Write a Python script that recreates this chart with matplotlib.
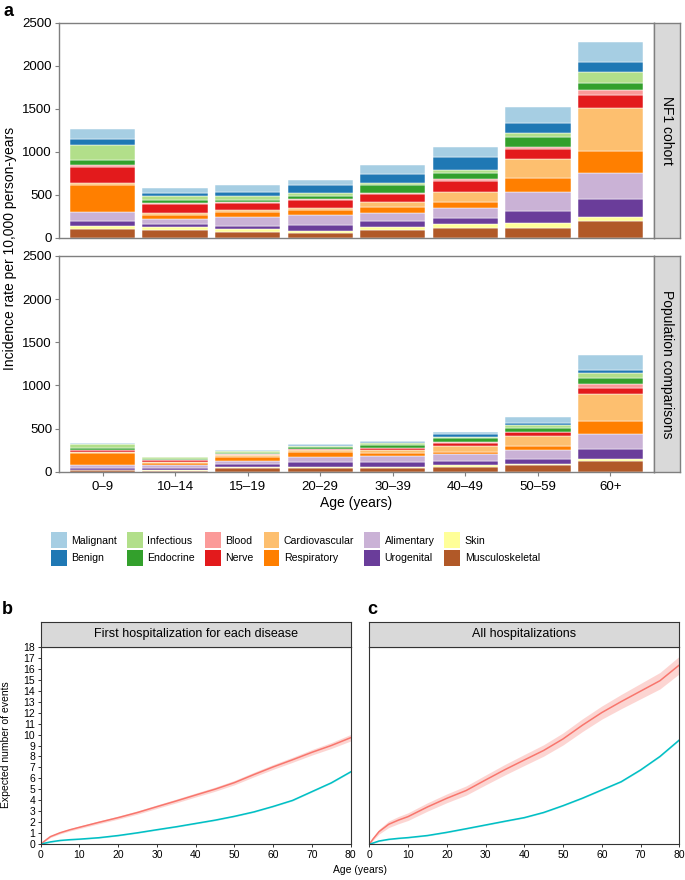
import matplotlib
matplotlib.use("Agg")
import matplotlib.pyplot as plt
from matplotlib.patches import Patch
import numpy as np

plt.rcParams['font.family'] = ['Liberation Sans', 'DejaVu Sans']

# ---------------- data: panel a ----------------
age_groups = ["0\u20139", "10\u201314", "15\u201319", "20\u201329", "30\u201339", "40\u201349", "50\u201359", "60+"]

diseases = ["Musculoskeletal", "Skin", "Urogenital", "Alimentary", "Respiratory",
            "Cardiovascular", "Nerve", "Blood", "Endocrine", "Infectious", "Benign", "Malignant"]
disease_colors = ["#B15928", "#FFFF99", "#6A3D9A", "#CAB2D6", "#FF7F00",
                  "#FDBF6F", "#E31A1C", "#FB9A99", "#33A02C", "#B2DF8A", "#1F78B4", "#A6CEE3"]

# NF1 cohort (rate per 10,000 person-years)
nf1_musculoskeletal = [105, 95, 70, 51, 90, 116, 113, 198]
nf1_skin            = [35, 27, 28, 22, 31, 40, 61, 39]
nf1_urogenital      = [54, 37, 38, 70, 77, 70, 140, 210]
nf1_alimentary      = [101, 58, 101, 122, 93, 119, 217, 305]
nf1_respiratory     = [321, 48, 62, 55, 63, 74, 160, 260]
nf1_cardiovascular  = [16, 25, 23, 22, 65, 116, 221, 500]
nf1_nerve           = [190, 100, 80, 100, 89, 128, 123, 148]
nf1_blood           = [20, 8, 8, 8, 15, 16, 23, 58]
nf1_endocrine       = [62, 40, 31, 30, 86, 70, 110, 85]
nf1_infectious      = [174, 45, 39, 38, 31, 38, 53, 124]
nf1_benign          = [70, 35, 54, 90, 101, 155, 109, 113]
nf1_malignant       = [116, 65, 78, 68, 104, 116, 194, 232]

# Population comparisons
pop_musculoskeletal = [15, 12, 42, 39, 42, 58, 77, 127]
pop_skin            = [10, 10, 12, 15, 15, 19, 12, 23]
pop_urogenital      = [18, 18, 31, 54, 54, 50, 58, 112]
pop_alimentary      = [40, 35, 39, 66, 69, 77, 104, 174]
pop_respiratory     = [130, 30, 50, 50, 31, 23, 46, 151]
pop_cardiovascular  = [10, 8, 15, 23, 39, 69, 120, 317]
pop_nerve           = [25, 22, 10, 16, 19, 35, 39, 69]
pop_blood           = [5, 3, 2, 3, 4, 12, 8, 42]
pop_endocrine       = [18, 12, 15, 19, 39, 50, 46, 73]
pop_infectious      = [50, 18, 19, 15, 15, 12, 27, 58]
pop_benign          = [3, 1, 3, 8, 12, 27, 27, 31]
pop_malignant       = [8, 3, 12, 12, 15, 27, 69, 181]

nf1_rates = [nf1_musculoskeletal, nf1_skin, nf1_urogenital, nf1_alimentary, nf1_respiratory,
             nf1_cardiovascular, nf1_nerve, nf1_blood, nf1_endocrine, nf1_infectious,
             nf1_benign, nf1_malignant]
pop_rates = [pop_musculoskeletal, pop_skin, pop_urogenital, pop_alimentary, pop_respiratory,
             pop_cardiovascular, pop_nerve, pop_blood, pop_endocrine, pop_infectious,
             pop_benign, pop_malignant]

# ---------------- data: panels b, c ----------------
ages         = [0, 1, 2.5, 5, 7.5, 10, 15, 20, 25, 30, 35, 40, 45, 50, 55, 60, 65, 70, 75, 80]
first_nf1    = [0, 0.3, 0.7, 1.05, 1.32, 1.55, 2.0, 2.43, 2.9, 3.43, 3.95, 4.49, 5.02, 5.62, 6.35, 7.05, 7.7, 8.38, 9.0, 9.71]
first_nf1_ci = [0, 0.05, 0.08, 0.1, 0.11, 0.12, 0.13, 0.14, 0.15, 0.16, 0.17, 0.18, 0.19, 0.2, 0.21, 0.22, 0.23, 0.25, 0.27, 0.3]
first_pop    = [0, 0.1, 0.22, 0.35, 0.42, 0.47, 0.6, 0.8, 1.05, 1.33, 1.6, 1.9, 2.2, 2.55, 2.95, 3.45, 4.0, 4.8, 5.6, 6.6]
all_nf1      = [0, 0.5, 1.15, 1.82, 2.2, 2.52, 3.4, 4.19, 4.9, 5.86, 6.8, 7.68, 8.55, 9.6, 10.85, 12.0, 13.0, 13.95, 14.9, 16.33]
all_nf1_ci   = [0, 0.12, 0.22, 0.3, 0.33, 0.35, 0.38, 0.4, 0.42, 0.45, 0.48, 0.5, 0.52, 0.55, 0.58, 0.6, 0.65, 0.7, 0.75, 0.8]
all_pop      = [0, 0.12, 0.3, 0.45, 0.54, 0.61, 0.8, 1.09, 1.42, 1.76, 2.1, 2.43, 2.9, 3.52, 4.2, 4.95, 5.7, 6.77, 8.0, 9.5]

NF1_COL = "#F8766D"
POP_COL = "#00BFC4"

W, H = 685, 880
fig = plt.figure(figsize=(W / 100, H / 100), dpi=100)


def rect(x0, y0, x1, y1):
    return [x0 / W, 1 - y1 / H, (x1 - x0) / W, (y1 - y0) / H]


GRAY = "#7F7F7F"


def bar_panel(box, strip_box, rates, strip_label, show_x):
    ax = fig.add_axes(rect(*box))
    x = np.arange(len(age_groups))
    bottom = np.zeros(len(age_groups))
    for vals, col in zip(rates, disease_colors):
        v = np.array(vals, dtype=float)
        ax.bar(x, v, bottom=bottom, width=0.9, color=col, edgecolor="white", linewidth=0.35)
        bottom += v
    ax.set_xlim(-0.6, len(age_groups) - 0.4)
    ax.set_ylim(0, 2500)
    ax.set_yticks([0, 500, 1000, 1500, 2000, 2500])
    for s in ax.spines.values():
        s.set_color(GRAY)
        s.set_linewidth(1.0)
    ax.tick_params(axis="y", colors=GRAY, labelcolor="black", labelsize=9.5, length=3, width=0.8, pad=2)
    if show_x:
        ax.set_xticks(x)
        ax.set_xticklabels(age_groups)
        ax.tick_params(axis="x", colors=GRAY, labelcolor="black", labelsize=9.5, length=3, width=0.8, pad=4)
    else:
        ax.set_xticks([])
    sax = fig.add_axes(rect(*strip_box))
    sax.set_xticks([]); sax.set_yticks([])
    sax.set_facecolor("#D9D9D9")
    for s in sax.spines.values():
        s.set_color(GRAY)
        s.set_linewidth(1.0)
    sax.text(0.5, 0.5, strip_label, rotation=-90, ha="center", va="center", fontsize=10,
             transform=sax.transAxes)
    return ax


ax_top = bar_panel((59, 22.7, 654, 237.7), (654, 22.7, 680, 237.7), nf1_rates, "NF1 cohort", False)
ax_bot = bar_panel((59, 256, 654, 471.7), (654, 256, 680, 471.7), pop_rates, "Population comparisons", True)

fig.text(10 / W, 1 - 248 / H, "Incidence rate per 10,000 person-years", rotation=90,
         ha="center", va="center", fontsize=10)
fig.text(356 / W, 1 - 503 / H, "Age (years)", ha="center", va="center", fontsize=10)
fig.text(3 / W, 1 - 11 / H, "a", fontsize=13, fontweight="bold", ha="left", va="center")

# legend
handles = [Patch(facecolor=c, edgecolor="none") for c in disease_colors]
order = ["Malignant", "Benign", "Infectious", "Endocrine", "Blood", "Nerve",
         "Cardiovascular", "Respiratory", "Alimentary", "Urogenital", "Skin", "Musculoskeletal"]
lh = [handles[diseases.index(n)] for n in order]
LFS = 7.6
leg = fig.legend(lh, order, ncol=6, loc="upper left", bbox_to_anchor=(51 / W, 1 - 532.5 / H),
                 frameon=False, fontsize=LFS, handlelength=1.5, handleheight=1.9,
                 labelspacing=0.2, columnspacing=0.95, handletextpad=0.42, borderaxespad=0,
                 borderpad=0)

# ---------------- panels b and c ----------------
def line_panel(box, strip_box, nf1, nf1_ci, pop, title, show_ylabels):
    ax = fig.add_axes(rect(*box))
    a = np.array(ages, dtype=float)
    n = np.array(nf1); nc = np.array(nf1_ci); p = np.array(pop)
    ax.fill_between(a, n - nc, n + nc, color=NF1_COL, alpha=0.3, linewidth=0)
    ax.fill_between(a, p - 0.05, p + 0.05, color=POP_COL, alpha=0.3, linewidth=0)
    ax.plot(a, n, color=NF1_COL, lw=1.1)
    ax.plot(a, p, color=POP_COL, lw=1.1)
    ax.set_xlim(0, 80)
    ax.set_ylim(0, 18)
    ax.set_xticks(range(0, 81, 10))
    ax.set_yticks(range(0, 19))
    for s in ax.spines.values():
        s.set_color("#333333")
        s.set_linewidth(0.8)
    ax.tick_params(colors="#333333", labelcolor="black", labelsize=7.5, length=2.5, width=0.7, pad=1.5)
    if not show_ylabels:
        ax.set_yticklabels([])
        ax.tick_params(axis="y", length=0)
    sax = fig.add_axes(rect(*strip_box))
    sax.set_xticks([]); sax.set_yticks([])
    sax.set_facecolor("#D9D9D9")
    for s in sax.spines.values():
        s.set_color("#333333")
        s.set_linewidth(0.8)
    sax.text(0.5, 0.5, title, ha="center", va="center", fontsize=9, transform=sax.transAxes)
    return ax


line_panel((40.7, 646.7, 350.7, 844.3), (40.7, 621.7, 350.7, 646.7),
           first_nf1, first_nf1_ci, first_pop, "First hospitalization for each disease", True)
line_panel((369.3, 646.7, 679.3, 844.3), (369.3, 621.7, 679.3, 646.7),
           all_nf1, all_nf1_ci, all_pop, "All hospitalizations", False)

fig.text(6 / W, 1 - 745 / H, "Expected number of events", rotation=90, ha="center", va="center", fontsize=7.5)
fig.text(360 / W, 1 - 870 / H, "Age (years)", ha="center", va="center", fontsize=7.5)
fig.text(2 / W, 1 - 609 / H, "b", fontsize=13, fontweight="bold", ha="left", va="center")
fig.text(367 / W, 1 - 609 / H, "c", fontsize=13, fontweight="bold", ha="left", va="center")

fig.savefig("out.png", dpi=100)
